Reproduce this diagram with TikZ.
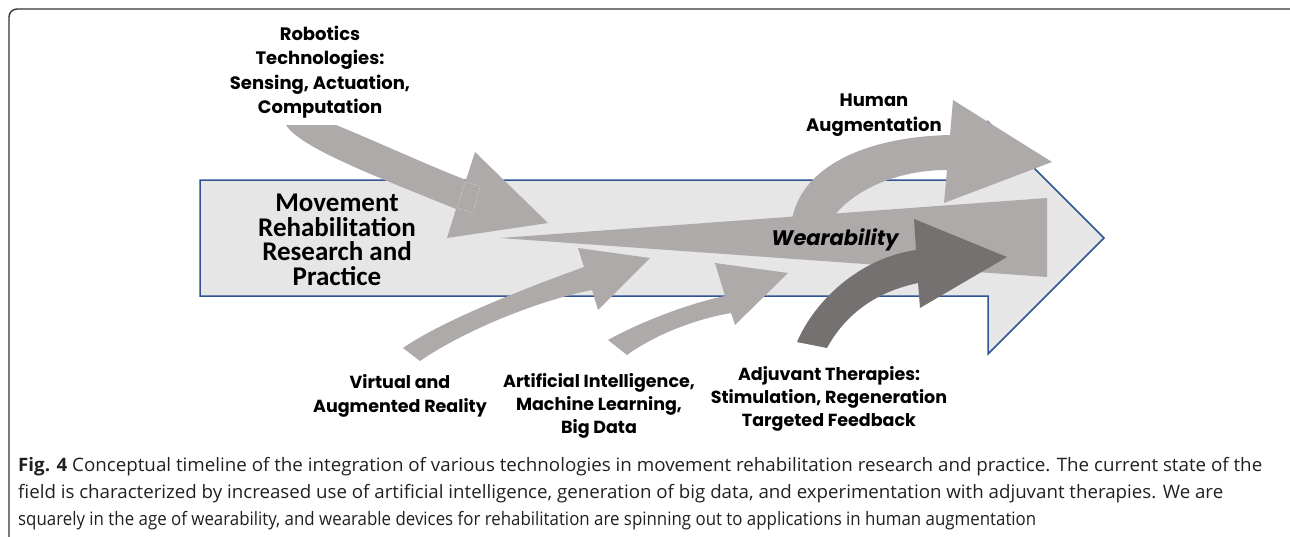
\documentclass[tikz,border=0pt]{standalone}
\usepackage{fontspec}
\setmainfont{Poppins}
\newfontfamily\calib{Carlito}
\newfontfamily\capf{Open Sans}
\definecolor{boxfill}{HTML}{E6E6E6}
\definecolor{boxline}{HTML}{2F5597}
\definecolor{garrow}{HTML}{AEAAAA}
\definecolor{darrow}{HTML}{767171}
\definecolor{frameline}{HTML}{333333}
\definecolor{captext}{HTML}{231F20}
\tikzset{
  lab/.style={align=center, inner sep=0pt, font=\fontsize{18}{24.5}\selectfont\bfseries},
  lablow/.style={align=center, inner sep=0pt, font=\fontsize{17.5}{23.3}\selectfont\bfseries},
  greyarrow/.style={fill=garrow, draw=none},
  darkarrow/.style={fill=darrow, draw=none},
  capline/.style={anchor=base west, inner sep=0pt, text=captext, font=\capf\fontsize{18.5}{22}\selectfont}
}
\newcommand{\capw}[2]{\resizebox{#1pt}{\height}{#2}}
\begin{document}
\begin{tikzpicture}[x=1pt,y=-1pt]
\useasboundingbox (0,0) rectangle (1290,536);
\begin{scope}
\clip (0,0) rectangle (1290,536);
\draw[frameline, line width=1.4pt, rounded corners=8pt] (9,9) rectangle (1300,545);
\end{scope}
% main timeline arrow
\draw[fill=boxfill, draw=boxline, line width=1.5pt, line join=miter]
  (200,180) -- (988,180) -- (988,122) -- (1104,238) -- (988,354) -- (988,296) -- (200,296) -- cycle;
% robotics arrow
\fill[greyarrow] (286,125) -- (336,125) .. controls (380,143) and (425,164) .. (466,180)
  -- (475,152) -- (548,223) -- (447,238) -- (456,209)
  .. controls (380,178) and (300,148) .. (286,125) -- cycle;
\draw[white!55!garrow, line width=0.4pt, dash pattern=on 1.5pt off 1.5pt] (465,182) -- (480,186) -- (473,213) -- (457,208) -- cycle;
% human augmentation arrow
\fill[greyarrow] (834,216) -- (792,220) .. controls (800,170) and (860,137) .. (950,135)
  -- (953,100) -- (1052,162) -- (944,203) -- (947,170)
  .. controls (890,170) and (850,195) .. (834,216) -- cycle;
% wearability wedge
\fill[greyarrow] (500,238) -- (1047,198) -- (1047,277) -- cycle;
% VR arrow
\fill[greyarrow] (420,361) -- (403,348) .. controls (440,322) and (520,290) .. (584,267)
  -- (578,248) -- (650,258) -- (598,310) -- (592,290)
  .. controls (540,300) and (465,330) .. (420,361) -- cycle;
% AI arrow
\fill[greyarrow] (627,355) -- (608,340) .. controls (640,322) and (690,303) .. (725,296)
  -- (715,263) -- (788,273) -- (735,325) -- (731,313)
  .. controls (690,320) and (650,338) .. (627,355) -- cycle;
% adjuvant arrow
\fill[darkarrow] (827,348) -- (797,342) .. controls (815,300) and (860,258) .. (916,250)
  -- (914,219) -- (1007,257) -- (920,308) -- (918,283)
  .. controls (875,292) and (845,315) .. (827,348) -- cycle;
% texts
\node[align=center, inner sep=0pt, font=\calib\fontsize{27}{24.6}\selectfont\bfseries] (mrrp) at (337,240)
  {Movement\\Rehabilitation\\Research and\\Practice};
\node[inner sep=0pt, font=\fontsize{21}{24}\selectfont\bfseries\itshape] (wear) at (835,240) {Wearability};
\node[lab] (robot) at (320,72) {Robotics\\Technologies:\\Sensing, Actuation,\\Computation};
\node[lab] (human) at (874,115) {Human\\Augmentation};
\node[lablow] (vr) at (400,396) {Virtual and\\Augmented Reality};
\node[lablow] (ai) at (599,406) {Artificial Intelligence,\\Machine Learning,\\Big Data};
\node[lablow] (adj) at (829,399) {Adjuvant Therapies:\\Stimulation, Regeneration\\Targeted Feedback};
% caption
\node[capline] (cap1) at (18,471) {\capw{1244}{\textbf{Fig. 4} Conceptual timeline of the integration of various technologies in movement rehabilitation research and practice. The current state of the}};
\node[capline] (cap2) at (18,498.5) {\capw{1205}{field is characterized by increased use of artificial intelligence, generation of big data, and experimentation with adjuvant therapies. We are}};
\node[capline] (cap3) at (18,525.5) {\capw{1018}{squarely in the age of wearability, and wearable devices for rehabilitation are spinning out to applications in human augmentation}};
\end{tikzpicture}
\end{document}
